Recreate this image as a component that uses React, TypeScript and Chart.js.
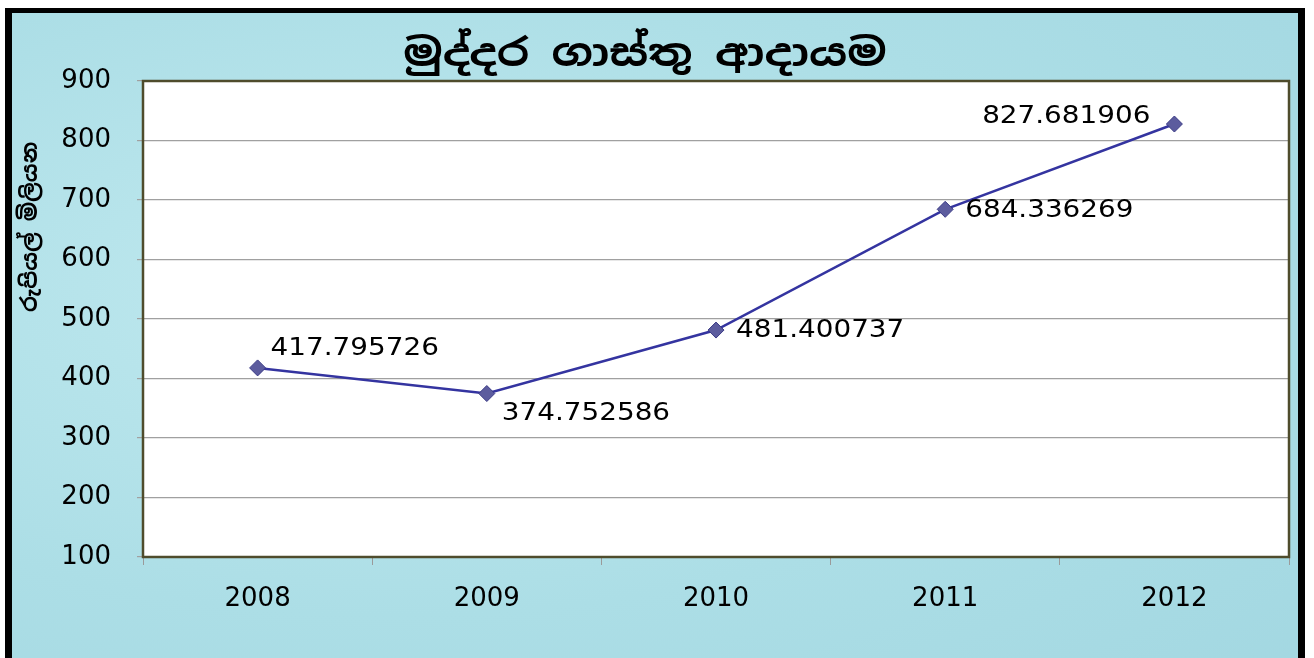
import React, { useEffect, useRef } from "react";
import { Chart, registerables } from "chart.js";

Chart.register(...registerables);

const categories = ["2008", "2009", "2010", "2011", "2012"];
const revenue = [417.795726, 374.752586, 481.400737, 684.336269, 827.681906];
const labelTexts = ["417.795726", "374.752586", "481.400737", "684.336269", "827.681906"];
const labelPlacement = ["aboveRight", "belowRight", "right", "right", "aboveLeft"];
const titleText = "මුද්දර ගාස්තු ආදායම";
const yTitleText = "රුපියල් මිලියන";

const FONT = "'DejaVu Sans', Verdana, sans-serif";
const SINHALA = "'Noto Sans Sinhala', 'Iskoola Pota', 'Noto Sans', 'DejaVu Sans', sans-serif";

const plotPlugin = {
  id: "plotDecor",
  beforeDraw(chart: any) {
    const { ctx, chartArea } = chart;
    ctx.save();
    ctx.fillStyle = "#ffffff";
    ctx.fillRect(chartArea.left, chartArea.top, chartArea.right - chartArea.left, chartArea.bottom - chartArea.top);
    ctx.restore();
  },
  beforeDatasetsDraw(chart: any) {
    const { ctx, chartArea } = chart;
    ctx.save();
    ctx.strokeStyle = "#4f4c2c";
    ctx.lineWidth = 2.5;
    ctx.strokeRect(chartArea.left, chartArea.top, chartArea.right - chartArea.left, chartArea.bottom - chartArea.top);
    ctx.restore();
  },
  afterDatasetsDraw(chart: any) {
    const { ctx, chartArea } = chart;
    const meta = chart.getDatasetMeta(0);
    ctx.save();
    ctx.fillStyle = "#000000";
    ctx.font = `24px ${FONT}`;
    ctx.textBaseline = "middle";
    meta.data.forEach((pt: any, i: number) => {
      const place = labelPlacement[i];
      let x = pt.x;
      let y = pt.y;
      let align: CanvasTextAlign = "left";
      if (place === "aboveRight") { x += 13; y -= 19; }
      else if (place === "belowRight") { x += 15; y += 20; }
      else if (place === "right") { x += 20; y += 1; }
      else if (place === "aboveLeft") { x -= 24; y -= 7; align = "right"; }
      ctx.save();
      ctx.translate(x, y);
      ctx.scale(1.16, 1);
      ctx.textAlign = align;
      ctx.fillText(labelTexts[i], 0, 0);
      ctx.restore();
    });
    // chart title
    ctx.save();
    ctx.translate(chart.width / 2 - 10, chartArea.top - 25);
    ctx.scale(1.18, 1);
    ctx.font = `bold 38px ${SINHALA}`;
    ctx.textAlign = "center";
    ctx.textBaseline = "middle";
    ctx.fillText(titleText, 0, 0);
    ctx.restore();
    // y axis title
    ctx.save();
    ctx.translate(chartArea.left - 112, chartArea.top + 146);
    ctx.rotate(-Math.PI / 2);
    ctx.font = `bold 22px ${SINHALA}`;
    ctx.textAlign = "center";
    ctx.textBaseline = "middle";
    ctx.fillText(yTitleText, 0, 0);
    ctx.restore();
    ctx.restore();
  },
};

export default function App() {
  const ref = useRef<HTMLCanvasElement>(null);
  useEffect(() => {
    if (!ref.current) return;
    const chart = new Chart(ref.current, {
      type: "line",
      data: {
        labels: categories,
        datasets: [
          {
            data: revenue,
            borderColor: "#3434a0",
            borderWidth: 2.5,
            pointStyle: "rectRot",
            pointRadius: 8,
            pointHoverRadius: 8,
            pointBackgroundColor: "#5c5c9e",
            pointBorderColor: "#3a3a86",
            pointBorderWidth: 1,
            tension: 0,
            fill: false,
          },
        ],
      },
      options: {
        animation: false,
        responsive: false,
        devicePixelRatio: 1,
        layout: { padding: { left: 0, right: 5, top: 68, bottom: 0 } },
        plugins: {
          legend: { display: false },
          tooltip: { enabled: false },
          title: { display: false },
        },
        scales: {
          x: {
            type: "category",
            offset: true,
            grid: {
              offset: true,
              drawOnChartArea: false,
              drawTicks: true,
              tickLength: 8,
              color: "#9a9a9a",
            },
            border: { display: false },
            ticks: {
              color: "#000000",
              font: { family: FONT, size: 26 },
              padding: 19,
              maxRotation: 0,
            },
            afterFit: (scale: any) => { scale.height = 101; },
          },
          y: {
            min: 100,
            max: 900,
            ticks: {
              stepSize: 100,
              color: "#000000",
              font: { family: FONT, size: 26 },
              padding: 26,
            },
            grid: {
              color: "#a0a0a0",
              lineWidth: 1.2,
              tickLength: 6,
            },
            border: { display: false },
            afterFit: (scale: any) => { scale.width = 131; },
          },
        },
      },
      plugins: [plotPlugin],
    });
    return () => chart.destroy();
  }, []);

  return (
    <div
      style={{
        position: "fixed",
        left: 5,
        top: 8,
        width: 1300,
        height: 700,
        boxSizing: "border-box",
        borderLeft: "7px solid #000",
        borderTop: "5px solid #000",
        borderRight: "7px solid #000",
        background:
          "radial-gradient(ellipse at 30% 40%, #c0e9ef 0%, #acdee6 55%, #a2d7e1 100%)",
      }}
    >
      <canvas ref={ref} width={1286} height={645} style={{ position: "absolute", left: 0, top: 0 }} />
    </div>
  );
}
